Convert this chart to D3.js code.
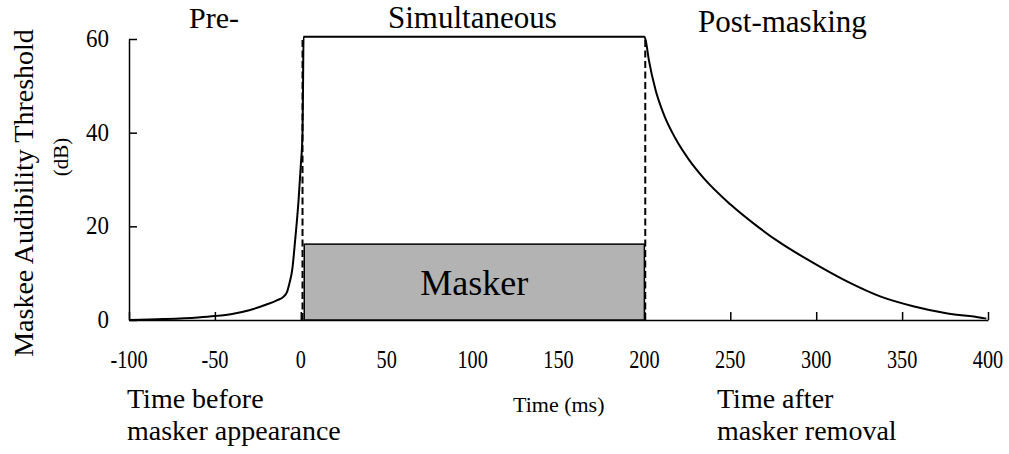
<!DOCTYPE html>
<html>
<head>
<meta charset="utf-8">
<script src="https://cdn.jsdelivr.net/npm/d3@7"></script>
<style>
    body { margin: 0; background: #fff; }
    text { font-family: "Liberation Serif", "Times New Roman", serif; fill: #000; }
</style>
</head>
<body>
<div id="chart"></div>
<script>
// threshold curve: pre-masking rise, plateau, post-masking decay
let curveTime = [-100, -80, -60, -50, -40, -30, -20, -14, -10, -8, -6.5, -5, -3.3, -1.3, 0, 1, 1.3, 1.6,
    200, 200.7, 202.6, 206.5, 211.4, 218, 226, 234.5, 250, 265, 279.4, 298.8, 318.2, 337.6, 357, 376.5, 395.9, 399];
let curveDb = [0, 0.2, 0.55, 0.85, 1.3, 2.1, 3.3, 4.2, 5.0, 6.0, 8.0, 10.7, 17, 25.6, 33, 40, 50, 60.5,
    60.5, 59.8, 55.5, 49.1, 43.8, 38.8, 34.2, 30.3, 24.7, 20.2, 16.4, 12.1, 8.2, 5.0, 2.9, 1.4, 0.5, 0.3];

let maskerStart = 2, maskerEnd = 200, maskerLevel = 16.2;
let onsetLines = [1, 200.5];   // dashed markers at masker on / off

let xTicks = [-100, -50, 0, 50, 100, 150, 200, 250, 300, 350, 400];
let yTicks = [0, 20, 40, 60];

let width = 1009,
    height = 454;

let svg = d3.select("#chart")
    .append("svg")
    .attr("width", width)
    .attr("height", height);

let x = d3.scaleLinear().domain([-100, 400]).range([129, 988]);
let y = d3.scaleLinear().domain([0, 60]).range([320, 39]);

// axes, ticks point inward
svg.append("g")
    .attr("transform", "translate(0,320)")
    .call(d3.axisBottom(x).tickValues(xTicks).tickSizeInner(-8).tickSizeOuter(0).tickFormat(""))
    .call(g => g.select(".domain").attr("stroke-width", 1.5))
    .call(g => g.selectAll(".tick line").attr("stroke-width", 1.5));

svg.append("g")
    .attr("transform", "translate(129,0)")
    .call(d3.axisLeft(y).tickValues(yTicks).tickSizeInner(-8).tickSizeOuter(0).tickFormat(""))
    .call(g => g.select(".domain").attr("stroke-width", 1.5))
    .call(g => g.selectAll(".tick line").attr("stroke-width", 1.5));

// tick labels drawn by hand so they can be narrowed like the original
svg.selectAll(".xlab")
    .data(xTicks)
    .enter().append("text")
    .attr("class", "xlab")
    .attr("transform", d => "translate(" + x(d) + ",368) scale(0.78,1)")
    .attr("text-anchor", "middle")
    .style("font-size", "26px")
    .text(d => d);

svg.selectAll(".ylab")
    .data(yTicks)
    .enter().append("text")
    .attr("class", "ylab")
    .attr("transform", d => "translate(109," + (y(d) + 8) + ") scale(0.92,1)")
    .attr("text-anchor", "end")
    .style("font-size", "25px")
    .text(d => d);

// masker block
svg.append("rect")
    .attr("x", x(maskerStart))
    .attr("y", y(maskerLevel))
    .attr("width", x(maskerEnd) - x(maskerStart))
    .attr("height", y(0) - y(maskerLevel))
    .attr("fill", "#b3b3b3")
    .attr("stroke", "#000")
    .attr("stroke-width", 1.5);

svg.append("text")
    .attr("x", (x(maskerStart) + x(maskerEnd)) / 2)
    .attr("y", 295)
    .attr("text-anchor", "middle")
    .style("font-size", "36px")
    .text("Masker");

svg.selectAll(".onset")
    .data(onsetLines)
    .enter().append("line")
    .attr("x1", d => x(d))
    .attr("x2", d => x(d))
    .attr("y1", y(0))
    .attr("y2", y(60))
    .attr("stroke", "#000")
    .attr("stroke-width", 2)
    .attr("stroke-dasharray", "7,3.5");

let line = d3.line()
    .x(d => x(d[0]))
    .y(d => y(d[1]))
    .curve(d3.curveMonotoneX);

svg.append("path")
    .datum(curveTime.map((t, i) => [t, curveDb[i]]))
    .attr("d", line)
    .attr("fill", "none")
    .attr("stroke", "#000")
    .attr("stroke-width", 2);

// region titles
svg.append("text").attr("x", 189).attr("y", 28).style("font-size", "30px").text("Pre-");
svg.append("text").attr("x", 388).attr("y", 28).style("font-size", "31px").text("Simultaneous");
svg.append("text").attr("x", 698).attr("y", 32).style("font-size", "31px").text("Post-masking");

// notes under the axis
svg.append("text").attr("x", 127).attr("y", 408).style("font-size", "28px").text("Time before");
svg.append("text").attr("x", 127).attr("y", 440).style("font-size", "28px").text("masker appearance");
svg.append("text").attr("x", 717).attr("y", 408).style("font-size", "28px").text("Time after");
svg.append("text").attr("x", 717).attr("y", 440).style("font-size", "28px").text("masker removal");
svg.append("text").attr("x", 513).attr("y", 412).style("font-size", "22px").text("Time (ms)");

// y axis title
svg.append("text")
    .attr("transform", "translate(33,193) rotate(-90)")
    .attr("text-anchor", "middle")
    .style("font-size", "28px")
    .text("Maskee Audibility Threshold");

svg.append("text")
    .attr("transform", "translate(68,157) rotate(-90)")
    .attr("text-anchor", "middle")
    .style("font-size", "21px")
    .text("(dB)");
</script>
</body>
</html>
